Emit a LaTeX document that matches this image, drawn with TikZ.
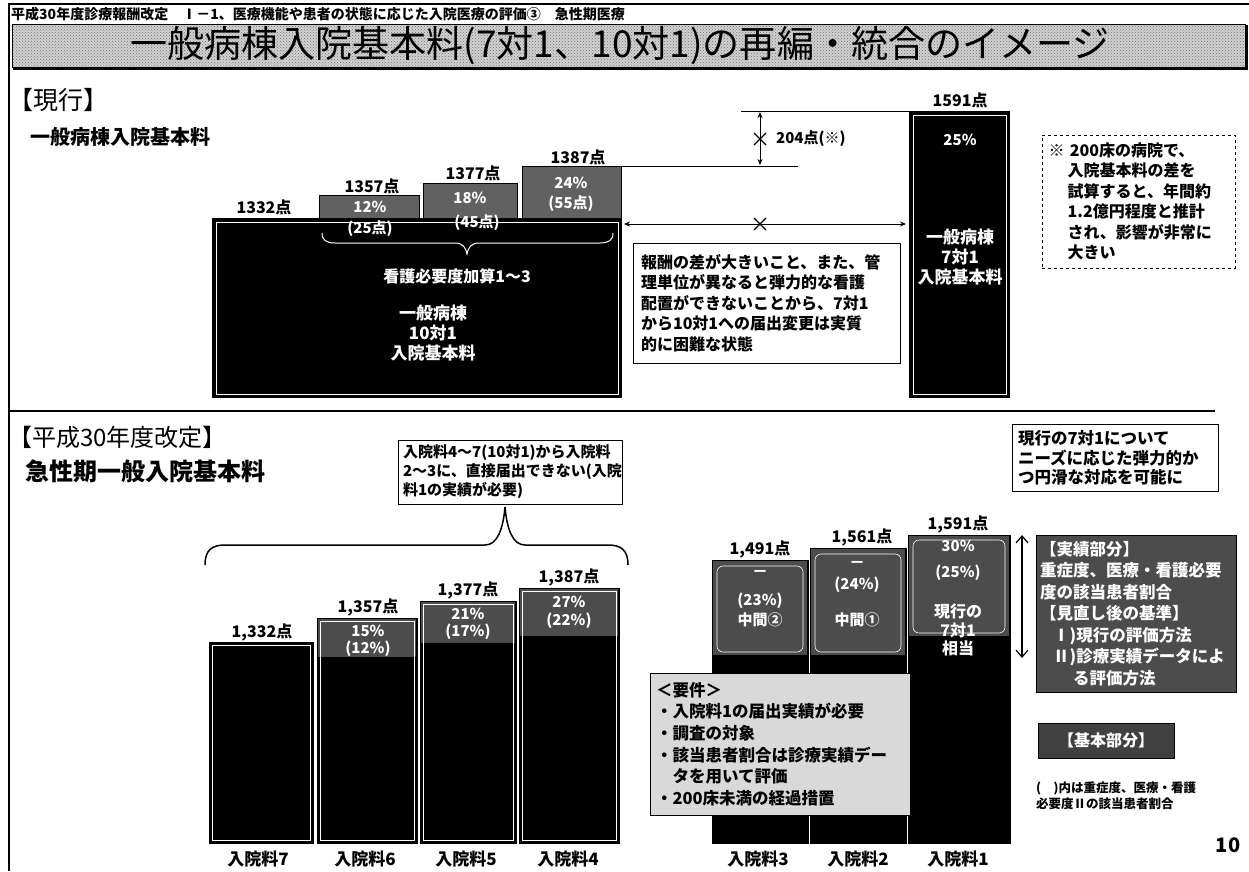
\documentclass[tikz,border=0pt]{standalone}
\usepackage{fontspec}
\setmainfont{Noto Sans CJK JP}
\usepackage{graphicx}
\usetikzlibrary{arrows.meta,patterns}
\begin{document}
\begin{tikzpicture}[x=1pt,y=-1pt,
  txt/.style={inner sep=0pt,font=\bfseries\fontsize{#1}{#1}\selectfont},
  wtxt/.style={txt=#1,text=white},
  para/.style n args={2}{inner sep=0pt,align=left,font=\bfseries\fontsize{#1}{#2}\selectfont},
  incr/.style={fill=black!62,draw=black,line width=0.8pt},
  bbar/.style={fill=black,draw=black,line width=1pt},
  inner/.style={draw=white,line width=0.6pt},
  dbl/.style={{Stealth[length=6pt,width=5pt]}-{Stealth[length=6pt,width=5pt]},line width=0.9pt},
  xmark/.style={line width=1.3pt},
  boxed/.style={draw=black,line width=1pt,fill=white},
]
\useasboundingbox (0,0) rectangle (1249,871);
\fill[white] (0,0) rectangle (1249,871);

% frame
\draw[line width=1.2pt] (9,871) -- (9,4) -- (1249,4);
\node[anchor=west,inner sep=0pt,font=\bfseries\fontsize{14}{14}\selectfont] (hdr) at (11,14)
  {平成30年度診療報酬改定　Ⅰ－1、医療機能や患者の状態に応じた入院医療の評価③　急性期医療};

% title bar
\fill[black!18] (12,24) rectangle (1245,67);
\fill[pattern=crosshatch dots,pattern color=black!55] (12,24) rectangle (1245,67);
\draw[line width=0.8pt] (12,24) rectangle (1245,67);
\draw[line width=2.5pt] (13,68.5) -- (1246.5,68.5) -- (1246.5,25);
\node[inner sep=0pt,font=\fontsize{36}{36}\selectfont] (title) at (620,46)
  {\resizebox{980pt}{!}{一般病棟入院基本料(7対1、10対1)の再編・統合のイメージ}};

% ---------- current ----------
\node[anchor=west,inner sep=0pt,font=\fontsize{25}{25}\selectfont] (genko) at (8,100) {【現行】};
\node[anchor=west,inner sep=0pt,font=\bfseries\fontsize{20}{20}\selectfont] (ippanL) at (30,137) {一般病棟入院基本料};

\fill[black] (212,218) rectangle (622,398);
\draw[inner] (216,222) rectangle (618,394);
\draw[incr] (319,195) rectangle (419,218);
\draw[incr] (423,183) rectangle (517,218);
\draw[incr] (522,166) rectangle (621,218);
\node[txt=16] (v1332) at (264,207) {1332点};
\node[txt=16] (v1357) at (372,186) {1357点};
\node[txt=16] (v1377) at (473,173) {1377点};
\node[txt=16] (v1387) at (578,157) {1387点};
\node[wtxt=15] (p12) at (370,207) {12\%};
\node[wtxt=15] (p18) at (470,198) {18\%};
\node[wtxt=15] (p24) at (571,183) {24\%};
\node[wtxt=15] (pt55) at (571,204) {(55点)};
\node[wtxt=15] (pt25) at (370,229) {(25点)};
\node[wtxt=15] (pt45) at (477,223) {(45点)};
\coordinate (bt1) at (322,233);
\coordinate (bt2) at (613,233);
\coordinate (btt) at (467,254);
\draw[white,line width=1pt] (bt1) .. controls (322,240) and (326,243) .. (335,243) -- (455,243)
  .. controls (463,243) and (466,248) .. (btt) .. controls (468,248) and (471,243) .. (479,243)
  -- (600,243) .. controls (609,243) and (613,240) .. (bt2);
\node[wtxt=16] (kango) at (457,276) {看護必要度加算1～3};
\node[wtxt=17,align=center,font=\bfseries\fontsize{17}{20}\selectfont] (ippan10) at (433,333) {一般病棟\\10対1\\入院基本料};

% 7:1 bar
\fill[black] (909,111) rectangle (1010,398);
\draw[inner] (913,115) rectangle (1006,394);
\node[txt=16] (v1591) at (960,100) {1591点};
\node[wtxt=15] (p25) at (960,140) {25\%};
\node[wtxt=17,align=center,font=\bfseries\fontsize{17}{20}\selectfont] (ippan7) at (960,257) {一般病棟\\7対1\\入院基本料};

% dimension lines
\coordinate (tl1) at (741,111);
\coordinate (tl2) at (909,111);
\draw[line width=0.9pt] (tl1) -- (tl2);
\coordinate (ll1) at (622,166);
\coordinate (ll2) at (798,166);
\draw[line width=0.9pt] (ll1) -- (ll2);
\coordinate (va1) at (760,112);
\coordinate (va2) at (760,165);
\draw[dbl] (va1) -- (va2);
\draw[xmark] (754,133) -- (766,145) (754,145) -- (766,133);
\node[txt=15,anchor=west] (d204) at (776,139) {204点(※)};
\coordinate (ha1) at (624,224);
\coordinate (ha2) at (906,224);
\draw[dbl] (ha1) -- (ha2);
\draw[xmark] (754,218) -- (766,230) (754,230) -- (766,218);

\node[boxed,minimum width=267pt,minimum height=120pt,text width=251pt,para={16}{20.5}] (reason) at (766.5,303)
  {報酬の差が大きいこと、また、管\\理単位が異なると弾力的な看護\\配置ができないことから、7対1\\から10対1への届出変更は実質\\的に困難な状態};

\node[draw=black,dashed,line width=1pt,minimum width=193pt,minimum height=133pt,text width=180pt,para={16}{20.5}] (note) at (1138.5,201.5)
  {※ 200床の病院で、\\\hspace*{1.2em}入院基本料の差を\\\hspace*{1.2em}試算すると、年間約\\\hspace*{1.2em}1.2億円程度と推計\\\hspace*{1.2em}され、影響が非常に\\\hspace*{1.2em}大きい};

% separator
\draw[line width=2pt] (10,411) -- (1215,411);

% ---------- revised ----------
\node[anchor=west,inner sep=0pt,font=\fontsize{24}{24}\selectfont] (h30) at (8,437) {【平成30年度改定】};
\node[anchor=west,inner sep=0pt,font=\bfseries\fontsize{24}{24}\selectfont] (kyusei) at (25,471) {急性期一般入院基本料};

\node[boxed,minimum width=224pt,minimum height=64pt,text width=214pt,para={15}{19}] (nobox) at (510,472)
  {入院料4～7(10対1)から入院料\\2～3に、直接届出できない(入院\\料1の実績が必要)};
\coordinate (brL) at (205,565);
\coordinate (brT) at (505,507);
\coordinate (brR) at (628,565);
\draw[line width=1.5pt] (brL) .. controls (205,550) and (212,545) .. (225,545) -- (485,545)
  .. controls (497,545) and (503,530) .. (brT) .. controls (507,530) and (513,545) .. (525,545)
  -- (608,545) .. controls (621,545) and (628,550) .. (brR);

\node[boxed,minimum width=206pt,minimum height=67pt,text width=194pt,para={16.5}{19.5}] (flex) at (1115,458)
  {現行の7対1について\\ニーズに応じた弾力的か\\つ円滑な対応を可能に};

% bars 7-4
\draw[bbar] (209,642) rectangle (313,843);
\draw[inner] (212,645) rectangle (310,840);
\draw[bbar] (317,618) rectangle (417,843);
\fill[black!70] (318,619) rectangle (416,657);
\draw[inner] (320,621) rectangle (414,840);
\draw[bbar] (420,601) rectangle (516,843);
\fill[black!70] (421,602) rectangle (515,643);
\draw[inner] (423,604) rectangle (513,840);
\draw[bbar] (519,588) rectangle (619,843);
\fill[black!70] (520,589) rectangle (618,636);
\draw[inner] (522,591) rectangle (616,840);

\node[txt=16] (n1332) at (262,632) {1,332点};
\node[txt=16] (n1357) at (368,607) {1,357点};
\node[txt=16] (n1377) at (468,590) {1,377点};
\node[txt=16] (n1387) at (569,577) {1,387点};
\node[wtxt=15] (q15) at (368,631) {15\%};
\node[wtxt=15] (q12) at (368,649) {(12\%)};
\node[wtxt=15] (q21) at (468,614) {21\%};
\node[wtxt=15] (q17) at (468,632) {(17\%)};
\node[wtxt=15] (q27) at (569,602) {27\%};
\node[wtxt=15] (q22) at (569,621) {(22\%)};

\node[txt=17] (r7) at (258,859) {入院料7};
\node[txt=17] (r6) at (365,859) {入院料6};
\node[txt=17] (r5) at (466,859) {入院料5};
\node[txt=17] (r4) at (568,859) {入院料4};

% bars 3-1
\draw[bbar] (712,560) rectangle (808,843);
\fill[black!70] (713,561) rectangle (807,655);
\draw[inner,rounded corners=6pt] (717,566) rectangle (803,652);
\draw[bbar] (810,548) rectangle (906,843);
\fill[black!70] (811,549) rectangle (905,655);
\draw[inner,rounded corners=6pt] (815,554) rectangle (901,652);
\draw[bbar] (908,535) rectangle (1010,843);
\fill[black!70] (909,536) rectangle (1009,636);
\draw[inner,rounded corners=6pt] (913,540) rectangle (1005,633);

\node[txt=16] (n1491) at (760,549) {1,491点};
\node[txt=16] (n1561) at (862,537) {1,561点};
\node[txt=16] (n1591) at (958,524) {1,591点};
\node[wtxt=16] (s3a) at (760,574) {－};
\node[wtxt=15] (s3b) at (760,601) {(23\%)};
\node[wtxt=15] (s3c) at (760,620) {中間②};
\node[wtxt=16] (s2a) at (857,565) {－};
\node[wtxt=15] (s2b) at (857,585) {(24\%)};
\node[wtxt=15] (s2c) at (857,620) {中間①};
\node[wtxt=15] (s1a) at (958,546) {30\%};
\node[wtxt=15] (s1b) at (958,573) {(25\%)};
\node[wtxt=16,align=center,font=\bfseries\fontsize{16}{18.5}\selectfont] (s1c) at (958,630) {現行の\\7対1\\相当};

\node[draw=black,line width=1pt,fill=black!15,minimum width=260pt,minimum height=142pt,text width=248pt,para={16.5}{21.6}] (req) at (780,744)
  {＜要件＞\\・入院料1の届出実績が必要\\・調査の対象\\・該当患者割合は診療実績デー\\\hspace*{1em}タを用いて評価\\・200床未満の経過措置};

\node[txt=17] (r3) at (758,859) {入院料3};
\node[txt=17] (r2) at (858,859) {入院料2};
\node[txt=17] (r1) at (958,859) {入院料1};

\coordinate (ar1) at (1022,535);
\coordinate (ar2) at (1022,658);
\draw[{Straight Barb[length=7pt,width=12pt]}-{Straight Barb[length=7pt,width=12pt]},line width=1.2pt] (ar1) -- (ar2);

\node[draw=black,line width=1pt,fill=black!70,text=white,minimum width=200pt,minimum height=157pt,text width=192pt,para={16.5}{21.5}] (jisseki) at (1136,613.5)
  {【実績部分】\\重症度、医療・看護必要\\度の該当患者割合\\【見直し後の基準】\\\hspace*{0.8em}Ⅰ)現行の評価方法\\\hspace*{0.8em}Ⅱ)診療実績データによ\\\hspace*{2em}る評価方法};

\node[draw=black,line width=1pt,fill=black!75,text=white,minimum width=136pt,minimum height=35pt,txt=16] (kihon) at (1106,740.5) {【基本部分】};

\node[anchor=west,para={12.5}{16}] (foot) at (1036,796) {(　)内は重症度、医療・看護\\必要度Ⅱの該当患者割合};

\node[txt=20] (pg) at (1228,845) {10};
\end{tikzpicture}
\end{document}
